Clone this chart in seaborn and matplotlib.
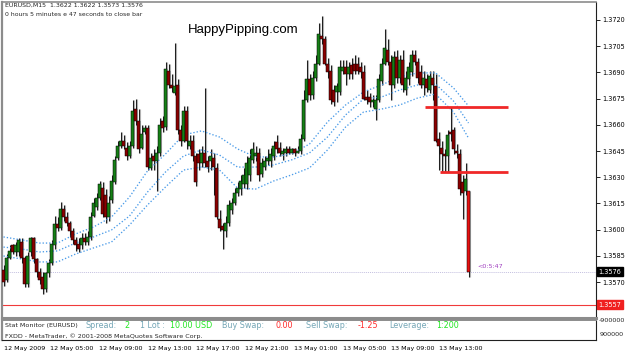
import numpy as np
import matplotlib
matplotlib.use("Agg")
import matplotlib.pyplot as plt
import matplotlib.transforms as mtransforms
import seaborn as sns

sns.set_style("white")
plt.rcParams['font.family'] = ['DejaVu Sans']

# EURUSD M15 bars, 12-13 May 2009
opens = [1.3577, 1.3571, 1.3584, 1.3591, 1.3587, 1.3587, 1.3593, 1.3584, 1.3569, 1.3587,
         1.3595, 1.3583, 1.3576, 1.3573, 1.3566, 1.3575, 1.3581, 1.3591, 1.3603, 1.3601,
         1.3612, 1.3607, 1.3604, 1.3599, 1.3594, 1.3592, 1.3591, 1.3595, 1.3593, 1.3596,
         1.3608, 1.3613, 1.3618, 1.3624, 1.3620, 1.3607, 1.3617, 1.3627, 1.3641, 1.3648,
         1.3651, 1.3647, 1.3642, 1.3648, 1.3669, 1.3662, 1.3647, 1.3656, 1.3658, 1.3635,
         1.3642, 1.3639, 1.3644, 1.3662, 1.3659, 1.3691, 1.3683, 1.3678, 1.3683, 1.3657,
         1.3651, 1.3668, 1.3648, 1.3651, 1.3642, 1.3643, 1.3638, 1.3644, 1.3639, 1.3639,
         1.3641, 1.3635, 1.3606, 1.3602, 1.3599, 1.3604, 1.3611, 1.3615, 1.3621, 1.3623,
         1.3626, 1.3626, 1.3631, 1.3640, 1.3642, 1.3644, 1.3632, 1.3636, 1.3639, 1.3639,
         1.3642, 1.3650, 1.3647, 1.3643, 1.3644, 1.3646, 1.3644, 1.3646, 1.3644, 1.3645,
         1.3652, 1.3674, 1.3686, 1.3677, 1.3687, 1.3695, 1.3711, 1.3709, 1.3695, 1.3691,
         1.3680, 1.3679, 1.3679, 1.3691, 1.3693, 1.3689, 1.3694, 1.3695, 1.3695, 1.3693,
         1.3690, 1.3676, 1.3676, 1.3673, 1.3669, 1.3674, 1.3685, 1.3695, 1.3703, 1.3696,
         1.3683, 1.3699, 1.3687, 1.3697, 1.3680, 1.3686, 1.3690, 1.3700, 1.3696, 1.3690,
         1.3683, 1.3686, 1.3680, 1.3687, 1.3682, 1.3652, 1.3647, 1.3643, 1.3642, 1.3656,
         1.3657, 1.3645, 1.3643, 1.3627, 1.3622, 1.3622]
highs = [1.3580, 1.3586, 1.3591, 1.3592, 1.3593, 1.3595, 1.3595, 1.3585, 1.3587, 1.3596,
         1.3596, 1.3584, 1.3578, 1.3576, 1.3576, 1.3583, 1.3594, 1.3608, 1.3607, 1.3616,
         1.3614, 1.3610, 1.3605, 1.3601, 1.3596, 1.3595, 1.3598, 1.3598, 1.3599, 1.3610,
         1.3618, 1.3621, 1.3628, 1.3627, 1.3623, 1.3619, 1.3631, 1.3642, 1.3651, 1.3656,
         1.3654, 1.3650, 1.3651, 1.3674, 1.3675, 1.3669, 1.3660, 1.3660, 1.3660, 1.3644,
         1.3646, 1.3648, 1.3664, 1.3665, 1.3696, 1.3695, 1.3689, 1.3707, 1.3686, 1.3660,
         1.3671, 1.3671, 1.3654, 1.3654, 1.3644, 1.3646, 1.3648, 1.3681, 1.3642, 1.3646,
         1.3644, 1.3638, 1.3611, 1.3604, 1.3608, 1.3617, 1.3618, 1.3624, 1.3627, 1.3631,
         1.3635, 1.3642, 1.3646, 1.3650, 1.3648, 1.3647, 1.3641, 1.3642, 1.3646, 1.3647,
         1.3651, 1.3654, 1.3650, 1.3647, 1.3648, 1.3648, 1.3647, 1.3647, 1.3648, 1.3655,
         1.3680, 1.3697, 1.3689, 1.3691, 1.3700, 1.3718, 1.3722, 1.3711, 1.3698, 1.3694,
         1.3683, 1.3684, 1.3697, 1.3697, 1.3697, 1.3696, 1.3698, 1.3700, 1.3699, 1.3696,
         1.3694, 1.3680, 1.3678, 1.3677, 1.3677, 1.3689, 1.3698, 1.3715, 1.3709, 1.3700,
         1.3702, 1.3703, 1.3700, 1.3703, 1.3691, 1.3696, 1.3703, 1.3703, 1.3698, 1.3694,
         1.3691, 1.3689, 1.3691, 1.3691, 1.3689, 1.3656, 1.3651, 1.3646, 1.3657, 1.3670,
         1.3659, 1.3649, 1.3646, 1.3631, 1.3638, 1.3622]
lows = [1.3568, 1.3570, 1.3583, 1.3586, 1.3585, 1.3585, 1.3581, 1.3567, 1.3567, 1.3585,
        1.3581, 1.3573, 1.3569, 1.3563, 1.3564, 1.3573, 1.3580, 1.3589, 1.3599, 1.3600,
        1.3605, 1.3602, 1.3596, 1.3592, 1.3588, 1.3587, 1.3589, 1.3591, 1.3591, 1.3594,
        1.3607, 1.3611, 1.3617, 1.3607, 1.3604, 1.3605, 1.3615, 1.3626, 1.3640, 1.3647,
        1.3646, 1.3640, 1.3641, 1.3647, 1.3660, 1.3644, 1.3646, 1.3655, 1.3634, 1.3634,
        1.3634, 1.3622, 1.3642, 1.3656, 1.3657, 1.3681, 1.3679, 1.3677, 1.3655, 1.3648,
        1.3650, 1.3646, 1.3646, 1.3639, 1.3625, 1.3634, 1.3636, 1.3636, 1.3633, 1.3634,
        1.3620, 1.3606, 1.3599, 1.3589, 1.3596, 1.3602, 1.3609, 1.3614, 1.3619, 1.3620,
        1.3624, 1.3623, 1.3628, 1.3638, 1.3639, 1.3628, 1.3630, 1.3634, 1.3637, 1.3636,
        1.3640, 1.3644, 1.3642, 1.3640, 1.3642, 1.3643, 1.3643, 1.3642, 1.3644, 1.3643,
        1.3651, 1.3673, 1.3674, 1.3675, 1.3685, 1.3694, 1.3706, 1.3694, 1.3687, 1.3672,
        1.3671, 1.3673, 1.3677, 1.3689, 1.3683, 1.3686, 1.3686, 1.3689, 1.3689, 1.3687,
        1.3674, 1.3672, 1.3670, 1.3670, 1.3663, 1.3673, 1.3683, 1.3694, 1.3694, 1.3674,
        1.3681, 1.3684, 1.3684, 1.3679, 1.3677, 1.3683, 1.3688, 1.3694, 1.3684, 1.3681,
        1.3677, 1.3679, 1.3678, 1.3674, 1.3650, 1.3634, 1.3633, 1.3633, 1.3633, 1.3651,
        1.3643, 1.3641, 1.3620, 1.3606, 1.3620, 1.3573]
closes = [1.3570, 1.3584, 1.3588, 1.3587, 1.3591, 1.3594, 1.3584, 1.3569, 1.3585, 1.3595,
          1.3583, 1.3576, 1.3571, 1.3566, 1.3575, 1.3581, 1.3592, 1.3603, 1.3601, 1.3612,
          1.3607, 1.3604, 1.3599, 1.3594, 1.3591, 1.3589, 1.3595, 1.3593, 1.3596, 1.3607,
          1.3615, 1.3618, 1.3626, 1.3609, 1.3607, 1.3615, 1.3628, 1.3640, 1.3648, 1.3651,
          1.3648, 1.3642, 1.3648, 1.3668, 1.3662, 1.3646, 1.3655, 1.3658, 1.3636, 1.3641,
          1.3639, 1.3644, 1.3660, 1.3658, 1.3692, 1.3683, 1.3681, 1.3682, 1.3657, 1.3651,
          1.3668, 1.3651, 1.3651, 1.3642, 1.3627, 1.3638, 1.3644, 1.3638, 1.3636, 1.3642,
          1.3636, 1.3607, 1.3601, 1.3600, 1.3604, 1.3614, 1.3615, 1.3621, 1.3624, 1.3628,
          1.3631, 1.3638, 1.3641, 1.3646, 1.3644, 1.3631, 1.3638, 1.3639, 1.3641, 1.3643,
          1.3648, 1.3646, 1.3644, 1.3645, 1.3646, 1.3644, 1.3646, 1.3644, 1.3645, 1.3652,
          1.3674, 1.3686, 1.3677, 1.3687, 1.3695, 1.3712, 1.3709, 1.3695, 1.3690, 1.3674,
          1.3673, 1.3682, 1.3693, 1.3693, 1.3689, 1.3693, 1.3689, 1.3691, 1.3691, 1.3690,
          1.3675, 1.3674, 1.3673, 1.3674, 1.3674, 1.3686, 1.3695, 1.3704, 1.3696, 1.3683,
          1.3699, 1.3687, 1.3697, 1.3683, 1.3687, 1.3693, 1.3700, 1.3696, 1.3687, 1.3683,
          1.3687, 1.3681, 1.3688, 1.3683, 1.3651, 1.3648, 1.3643, 1.3642, 1.3654, 1.3655,
          1.3646, 1.3644, 1.3623, 1.3621, 1.3629, 1.3576]

# envelope bands read every 6 bars
env_bars = [0, 6, 12, 18, 24, 30, 36, 42, 48, 54, 60, 66, 72, 78, 84, 90, 96,
            102, 108, 114, 120, 126, 132, 138, 144, 150, 155]
env_upper = [1.35958, 1.35941, 1.35923, 1.35923, 1.35975, 1.36015, 1.36072, 1.36187, 1.36336,
             1.36433, 1.36542, 1.36565, 1.36530, 1.36462, 1.36416, 1.36416, 1.36433, 1.36490,
             1.36616, 1.36713, 1.36788, 1.36828, 1.36874, 1.36897, 1.36897, 1.36811, 1.36708]
env_mid = [1.35900, 1.35889, 1.35872, 1.35878, 1.35923, 1.35958, 1.35998, 1.36078, 1.36215,
           1.36330, 1.36421, 1.36456, 1.36427, 1.36358, 1.36358, 1.36370, 1.36399, 1.36439,
           1.36530, 1.36656, 1.36748, 1.36759, 1.36799, 1.36828, 1.36834, 1.36736, 1.36610]
env_lower = [1.35849, 1.35832, 1.35815, 1.35815, 1.35860, 1.35895, 1.35929, 1.36026, 1.36141,
             1.36244, 1.36341, 1.36358, 1.36341, 1.36238, 1.36232, 1.36278, 1.36313, 1.36353,
             1.36456, 1.36587, 1.36673, 1.36690, 1.36713, 1.36753, 1.36776, 1.36673, 1.36524]

# horizontal levels drawn on the chart
level_prices = [1.3670, 1.3633]
level_start = [140.5, 145.5]
level_end = [168, 168]
bid_price = 1.3576
red_line_price = 1.3557

price_ticks = [1.3555, 1.3570, 1.3585, 1.3600, 1.3615, 1.3630,
               1.3645, 1.3660, 1.3675, 1.3690, 1.3705, 1.3720]
time_ticks = [0, 15.5, 31.7, 48.0, 64.2, 80.5, 96.7, 113.0, 129.2, 145.3]
time_labels = ["12 May 2009", "12 May 05:00", "12 May 09:00", "12 May 13:00",
               "12 May 17:00", "12 May 21:00", "13 May 01:00", "13 May 05:00",
               "13 May 09:00", "13 May 13:00"]

W, H = 625, 352
fig = plt.figure(figsize=(W / 100, H / 100), dpi=100)
fig.patch.set_facecolor("white")

def fx(x):
    return x / W

def fy(y):
    return 1 - y / H

ax = fig.add_axes([fx(2), fy(318), fx(594), 316 / H])
sub = fig.add_axes([fx(2), fy(340), fx(594), 20 / H])

o = np.array(opens)
h = np.array(highs)
l = np.array(lows)
c = np.array(closes)
idx = np.arange(len(c))
bull = c >= o
colors = np.where(bull, "#168016", "#8b0000")
colors[-1] = "#e81010"

# candle shadows and wicks
ax.vlines(idx + 0.55, l, h, color="#b4b4b4", lw=0.8, zorder=2)
ax.vlines(idx, l, h, color="#202020", lw=0.75, zorder=3)
body_low = np.minimum(o, c)
body_h = np.maximum(np.abs(c - o), 0.00004)
ax.bar(idx, body_h, bottom=body_low, width=0.8, color=colors,
       edgecolor="black", linewidth=0.35, zorder=4)

# envelopes
for band in (env_upper, env_mid, env_lower):
    sns.lineplot(x=env_bars, y=band, ax=ax, color="#4a9be8",
                 linestyle=(0, (1.0, 1.5)), lw=0.95, zorder=3)

# level lines
for p, s, e in zip(level_prices, level_start, level_end):
    ax.hlines(p, s, e, color="#f02828", lw=2.0, zorder=5)
ax.axhline(red_line_price, color="#f03a3a", lw=0.8, zorder=1)
ax.axhline(bid_price, color="#c4c0e0", lw=0.7, linestyle=(0, (1, 1)), zorder=1)

ax.text(158.0, bid_price + 0.00012, "<0:5:47", color="#a040c0", fontsize=4.6,
        ha="left", va="bottom", zorder=6)

ax.set_xlim(-0.5, 197.5)
ax.set_ylim(1.35494, 1.37303)
ax.set_xticks([])
ax.yaxis.tick_right()
ax.set_yticks(price_ticks)
# lowest tick label sits under the red price box
ax.set_yticklabels([""] + ["%.4f" % p for p in price_ticks[1:]])
ax.tick_params(axis="y", labelsize=4.7, length=3, width=0.6, pad=1.5,
               direction="out", colors="black")
ax.set_xlabel("")
ax.set_ylabel("")

trans = mtransforms.blended_transform_factory(ax.transAxes, ax.transData)
ax.text(1.0045, bid_price, "%.4f" % bid_price, transform=trans, fontsize=4.7,
        color="white", va="center", ha="left",
        bbox=dict(boxstyle="square,pad=0.25", fc="black", ec="black"), zorder=7,
        clip_on=False)
ax.text(1.0045, red_line_price, "%.4f" % red_line_price, transform=trans,
        fontsize=4.7, color="white", va="center", ha="left",
        bbox=dict(boxstyle="square,pad=0.25", fc="#f02020", ec="#f02020"), zorder=7,
        clip_on=False)

for side, col, lw in (("left", "#8c8c8c", 1.6), ("top", "#8c8c8c", 1.2),
                      ("right", "#202020", 0.8), ("bottom", "#8c8c8c", 2.2)):
    ax.spines[side].set_visible(True)
    ax.spines[side].set_color(col)
    ax.spines[side].set_linewidth(lw)

# sub window with time axis
sub.set_xlim(-0.5, 197.5)
sub.set_ylim(0, 1)
sub.set_yticks([])
sub.set_xticks(time_ticks)
sub.set_xticklabels(time_labels, ha="left")
sub.tick_params(axis="x", labelsize=4.6, length=3, width=0.6, pad=1,
                direction="out", colors="black")
for side, col, lw in (("left", "#8c8c8c", 1.6), ("top", "#8c8c8c", 1.4),
                      ("right", "#202020", 0.8), ("bottom", "#202020", 0.8)):
    sub.spines[side].set_visible(True)
    sub.spines[side].set_color(col)
    sub.spines[side].set_linewidth(lw)

fig.text(fx(599), fy(321), "-900000", fontsize=4.6, va="center", ha="left")
fig.text(fx(600), fy(335), "900000", fontsize=4.6, va="center", ha="left")

# header texts
fig.text(fx(5), fy(3), "EURUSD,M15  1.3622 1.3622 1.3573 1.3576", fontsize=4.5,
         va="top", ha="left")
fig.text(fx(5), fy(12), "0 hours 5 minutes e 47 seconds to close bar", fontsize=4.4,
         va="top", ha="left")
fig.text(fx(188), fy(24), "HappyPipping.com", fontsize=9.5, va="top", ha="left",
         family="Liberation Sans", color="black")

# stat monitor line
teal = "#74a6b6"
green = "#22e622"
red = "#ff2a2a"
stat_items = [("Spread:", 86, teal), ("2", 124, green), ("1 Lot :", 140, teal),
              ("10.00 USD", 170, green), ("Buy Swap:", 222, teal), ("0.00", 275, red),
              ("Sell Swap:", 306, teal), ("-1.25", 358, red), ("Leverage:", 389, teal),
              ("1:200", 436, green)]
fig.text(fx(5), fy(326), "Stat Monitor (EURUSD)", fontsize=4.6, va="center", ha="left")
for txt, x, col in stat_items:
    fig.text(fx(x), fy(326), txt, fontsize=5.8, va="center", ha="left", color=col)
fig.text(fx(5), fy(336), "FXDD - MetaTrader, \u00a9 2001-2008 MetaQuotes Software Corp.",
         fontsize=4.6, va="center", ha="left")

fig.savefig("out.png", dpi=100, facecolor="white")
